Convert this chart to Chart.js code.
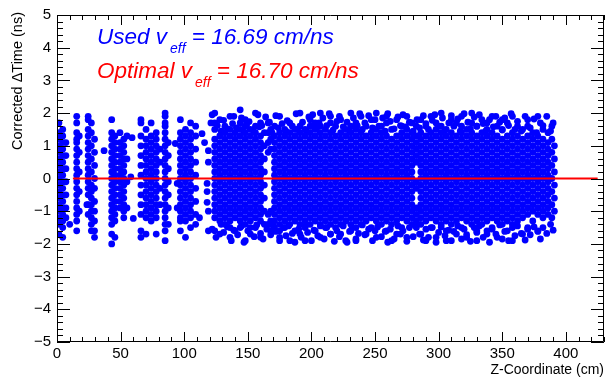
<!DOCTYPE html>
<html>
<head>
<meta charset="utf-8">
<script src="https://cdn.jsdelivr.net/npm/chart.js@4.4.1/dist/chart.umd.min.js"></script>
<style>
  html, body { margin: 0; padding: 0; background: #fff; }
  canvas { display: block; }
</style>
</head>
<body>
<canvas id="c" width="609" height="377"></canvas>
<script>
// z positions (cm) of the point columns, and the corrected time values in each column (tenths of ns)
const zCols = [
  1.5, 4.5, 7, 15.5, 17.5, 24.5, 27, 29.5, 43, 45.5, 49.5, 52.5, 55,
  66, 70, 74, 78, 81, 85, 87.5, 97, 101, 105, 109,
  124, 128, 132, 136, 140, 144, 148, 152, 156, 160, 163, 166, 168,
  171, 175, 179, 183, 187, 191, 195, 199, 203, 207, 211, 215,
  219, 223, 227, 231, 235, 239, 243, 247, 251, 255, 259, 263, 267, 271, 275, 279, 282.5,
  286, 290, 294, 298, 302, 306, 310, 314, 318, 322, 326, 330, 334, 338, 342, 346, 350,
  354, 358, 362, 366, 370, 374, 378, 382, 386, 389, 391
];
const dtTenths = [
  [17,14,12,10,8,6,4,2,0,-2,-4,-6,-8,-10,-12,-14,-17],
  [15,13,11,9,7,5,3,1,-1,-3,-5,-7,-9,-11,-13,-15,-18],
  [11,7,3,-1,-5,-9,-12],
  [19,17,14,12,11,9,7,5,3,1,-1,-3,-5,-7,-9,-11,-13,-16],
  [13,8,2,-4,-10],
  [19,18,15,13,11,9,7,5,3,1,-1,-3,-5,-8,-11],
  [17,14,10,6,2,-2,-4,-6,-8,-10,-12,-14,-16],
  [12,8,4,0,-3,-7,-10,-13,-16,-18],
  [18,14,12,10,8,6,4,2,0,-2,-4,-6,-8,-10,-12,-14,-17,-20],
  [13,11,9,7,5,3,1,-1,-3,-5,-7,-9,-11,-13,-18],
  [14,11,9,7,5,3,1,-1,-3,-5,-7,-9],
  [12,10,8,6,4,2,0,-2,-4,-6,-8,-10,-12],
  [13,6,-1,-9],
  [18,17,13,10,7,4,1,-2,-5,-8,-11,-16,-18],
  [15,12,10,8,6,4,2,0,-2,-4,-6,-8,-10,-12,-17],
  [17,13,11,9,7,5,3,1,-1,-3,-5,-7,-9,-11,-13],
  [14,12,10,8,6,4,2,0,-2,-4,-6,-8,-10,-12,-17],
  [9,5,-3,-8],
  [20,19,17,16,14,12,10,8,6,4,2,0,-2,-4,-6,-8,-10,-12,-14,-16,-19],
  [11,7,3,-1,-5,-9,-14],
  [18,14,12,10,8,6,4,2,0,-2,-4,-6,-8,-10,-12,-13,-16],
  [15,13,11,9,7,5,3,1,-1,-3,-5,-7,-9,-11,-13,-18],
  [17,14,12,10,8,6,4,2,0,-2,-4,-6,-8,-10,-12,-15],
  [16,13,9,5,1,-3,-7,-11,-14],
  [20,17,15,12,10,8,6,4,2,0,-2,-4,-6,-8,-10,-12,-16],
  [18,13,11,9,7,5,3,1,-1,-3,-5,-7,-9,-11,-13,-17],
  [16,14,12,10,8,6,4,2,0,-2,-4,-6,-8,-10,-12,-14],
  [19,15,13,11,9,7,5,3,1,-1,-3,-5,-7,-9,-11,-13,-15,-18],
  [14,12,10,8,6,4,2,0,-2,-4,-6,-8,-10,-12,-16],
  [21,17,15,13,11,9,7,5,3,1,-1,-3,-5,-7,-9,-11,-13,-15],
  [18,16,14,12,10,8,6,4,2,0,-2,-4,-6,-8,-10,-12,-14,-19],
  [15,13,11,9,7,5,3,1,-1,-3,-5,-7,-9,-11,-13,-17],
  [20,16,14,12,10,8,6,4,2,0,-2,-4,-6,-8,-10,-12,-15],
  [17,13,11,9,7,5,3,1,-1,-3,-5,-7,-9,-11,-13,-18],
  [14,10,6,2,-2,-6,-10,-14],
  [17,14,11,8,-11,-14],
  [15,12,9,-10,-13,-16],
  [16,13,11,9,7,5,3,1,-1,-3,-5,-7,-9,-11,-13,-15],
  [19,14,12,10,8,6,4,2,0,-2,-4,-6,-8,-10,-12,-14,-16,-18],
  [15,13,11,9,7,5,3,1,-1,-3,-5,-7,-9,-11,-13,-15],
  [17,14,12,10,8,6,4,2,0,-2,-4,-6,-8,-10,-12,-14,-19],
  [15,13,11,9,7,5,3,1,-1,-3,-5,-7,-9,-11,-13,-16],
  [20,16,14,12,10,8,6,4,2,0,-2,-4,-6,-8,-10,-12,-14,-17],
  [15,13,11,9,7,5,3,1,-1,-3,-5,-7,-9,-11,-13,-15,-19],
  [18,16,14,12,10,8,6,4,2,0,-2,-4,-6,-8,-10,-12,-14],
  [17,15,13,11,9,7,5,3,1,-1,-3,-5,-7,-9,-11,-13,-16],
  [20,16,14,12,10,8,6,4,2,0,-2,-4,-6,-8,-10,-12,-14,-18],
  [15,13,11,9,7,5,3,1,-1,-3,-5,-7,-9,-11,-13,-15],
  [19,17,14,12,10,8,6,4,2,0,-2,-4,-6,-8,-10,-12,-14,-17],
  [16,13,11,9,7,5,3,1,-1,-3,-5,-7,-9,-11,-13,-15],
  [18,14,12,10,8,6,4,2,0,-2,-4,-6,-8,-10,-12,-14,-17],
  [15,13,11,9,7,5,3,1,-1,-3,-5,-7,-9,-11,-13,-19],
  [20,16,14,12,10,8,6,4,2,0,-2,-4,-6,-8,-10,-12,-14,-16],
  [17,15,13,11,9,7,5,3,1,-1,-3,-5,-7,-9,-11,-13,-15,-19],
  [19,14,12,10,8,6,4,2,0,-2,-4,-6,-8,-10,-12,-14],
  [16,13,11,9,7,5,3,1,-1,-3,-5,-7,-9,-11,-13,-17],
  [18,14,12,10,8,6,4,2,0,-2,-4,-6,-8,-10,-12,-15],
  [20,15,13,11,9,7,5,3,1,-1,-3,-5,-7,-9,-11,-13,-18],
  [16,14,12,10,8,6,4,2,0,-2,-4,-6,-8,-10,-12,-14],
  [19,17,13,11,9,7,5,3,1,-1,-3,-5,-7,-9,-11,-13,-16],
  [15,12,10,8,6,4,2,0,-2,-4,-6,-8,-10,-12,-14,-19],
  [18,13,11,9,7,5,3,1,-1,-3,-5,-7,-9,-11,-13,-17],
  [16,14,12,10,8,6,4,2,0,-2,-4,-6,-8,-10,-12,-15],
  [19,15,13,11,9,7,5,3,1,-1,-3,-5,-7,-9,-11,-13,-18],
  [17,14,12,10,8,6,4,2,0,-2,-4,-6,-8,-10,-12,-14],
  [16,13,11,9,7,5,-1,-3,-9,-11,-13,-15],
  [18,14,12,10,8,6,4,2,0,-2,-4,-6,-8,-10,-12,-14,-17],
  [16,13,11,9,7,5,3,1,-1,-3,-5,-7,-9,-11,-13,-19],
  [19,14,12,10,8,6,4,2,0,-2,-4,-6,-8,-10,-12,-15],
  [17,15,13,11,9,7,5,3,1,-1,-3,-5,-7,-9,-11,-13,-18],
  [20,16,14,12,10,8,6,4,2,0,-2,-4,-6,-8,-10,-12,-14],
  [15,13,11,9,7,5,3,1,-1,-3,-5,-7,-9,-11,-13,-16,-19],
  [18,14,12,10,8,6,4,2,0,-2,-4,-6,-8,-10,-12,-14],
  [17,13,11,9,7,5,3,1,-1,-3,-5,-7,-9,-11,-13,-17],
  [19,16,14,12,10,8,6,4,2,0,-2,-4,-6,-8,-10,-12,-15],
  [15,13,11,9,7,5,3,1,-1,-3,-5,-7,-9,-11,-13,-18],
  [20,17,14,12,10,8,6,4,2,0,-2,-4,-6,-8,-10,-12,-14],
  [16,13,11,9,7,5,3,1,-1,-3,-5,-7,-9,-11,-13,-16,-19],
  [18,14,12,10,8,6,4,2,0,-2,-4,-6,-8,-10,-12,-14],
  [17,15,13,11,9,7,5,3,1,-1,-3,-5,-7,-9,-11,-13,-17],
  [19,14,12,10,8,6,4,2,0,-2,-4,-6,-8,-10,-12,-15],
  [16,13,11,9,7,5,3,1,-1,-3,-5,-7,-9,-11,-13,-18],
  [18,15,12,10,8,6,4,2,0,-2,-4,-6,-8,-10,-12,-14],
  [17,13,11,9,7,5,3,1,-1,-3,-5,-7,-9,-11,-13,-16],
  [19,14,12,10,8,6,4,2,0,-2,-4,-6,-8,-10,-12,-14,-19],
  [16,13,11,9,7,5,3,1,-1,-3,-5,-7,-9,-11,-13],
  [15,12,10,8,6,4,2,0,-2,-4,-6,-8,-10,-12,-17],
  [18,13,11,9,7,5,3,1,-1,-3,-5,-7,-9,-11,-15],
  [14,12,10,8,6,4,2,0,-2,-4,-6,-8,-10,-13],
  [19,13,11,9,7,5,3,1,-1,-3,-5,-7,-9,-11,-16],
  [15,12,10,8,6,4,2,0,-2,-4,-6,-8,-10,-12],
  [14,11,9,7,5,3,1,-1,-3,-5,-7,-9,-11],
  [16,12,8,4,0,-4,-8,-12],
  [10,6,2,-2,-6,-10]
];

// isolated points between the left-hand columns
const strayZ  = [10, 23.5, 37, 58, 59, 60, 93, 94.5, 94.5, 112, 114, 116, 118, 118, 118, 119, 119, 119, 119, 121];
const strayDt = [-1.4, -0.8, 0.85, 0.05, 1.25, -1.22, 1.07, -0.15, -0.9, -1.2, 1.37, 1.1, -0.15, -0.4, -0.73, 0.85, 0.5, -1.0, -1.6, 1.7];

// scattered points above and below the dense band
const fringeZ = [
  122,126,129,131,134,138,139,141,145,147,149,151,154,158,159,161,164,167,169,172,174,177,180,
  181,185,188,189,193,196,198,200,201,204,206,209,212,214,217,220,222,225,228,230,233,236,238,240,
  242,245,248,250,253,256,258,260,262,265,268,270,272,274,277,280,283,285,288,290,292,295,297,300,
  303,305,308,310,312,315,317,320,323,325,328,330,332,335,337,340,343,345,348,350,352,355,357,360,
  362,365,368,370,372,375,377,380,382,385,388,390,
  122,125,129,131,134,137,139,142,145,147,150,152,155,157,160,162,165,168,170,172,175,178,180,
  182,185,187,190,192,195,197,200,202,205,207,210,212,215,218,220,222,225,228,230,232,235,237,240,
  242,245,248,250,252,255,258,260,262,265,268,270,272,275,277,280,282,285,288,290,292,295,298,300,
  302,305,308,310,312,315,318,320,322,325,328,330,332,335,338,340,342,345,348,350,352,355,358,360,
  362,365,368,370,372,375,378,380,382,385,388,390
];
const fringeDt = [
  1.95,1.62,1.45,1.78,1.52,1.68,1.9,1.55,1.85,1.42,1.63,1.74,1.48,1.95,1.58,1.62,1.88,1.72,1.4,1.92,1.55,1.68,1.45,
  1.77,1.6,1.98,1.5,1.72,1.45,1.88,1.6,1.95,1.52,1.7,1.85,1.62,1.98,1.48,1.75,1.9,1.58,1.72,1.45,1.85,1.62,1.98,1.5,
  1.7,1.92,1.55,1.8,1.6,1.85,1.45,1.98,1.75,1.52,1.88,1.62,1.95,1.58,1.72,1.45,1.8,1.55,1.92,1.68,1.5,1.78,1.95,1.6,
  1.85,1.48,1.7,1.92,1.6,1.82,1.45,1.98,1.72,1.52,1.88,1.6,1.95,1.68,1.45,1.8,1.58,1.9,1.72,1.48,1.85,1.62,1.98,1.5,
  1.75,1.45,1.9,1.6,1.55,1.82,1.4,1.7,1.62,1.9,1.45,1.7,
  -1.55,-1.8,-1.4,-1.65,-1.48,-1.9,-1.58,-1.72,-1.45,-1.95,-1.6,-1.5,-1.78,-1.42,-1.68,-1.85,-1.55,-1.72,-1.45,-1.62,-1.9,-1.5,-1.75,
  -1.45,-1.68,-1.95,-1.55,-1.8,-1.48,-1.65,-1.9,-1.58,-1.75,-1.45,-1.85,-1.5,-1.7,-1.92,-1.6,-1.78,-1.45,-1.95,-1.62,-1.5,-1.85,-1.68,-1.42,
  -1.72,-1.55,-1.9,-1.6,-1.48,-1.78,-1.62,-1.95,-1.55,-1.85,-1.45,-1.7,-1.6,-1.92,-1.5,-1.78,-1.45,-1.7,-1.88,-1.55,-1.8,-1.5,-1.95,-1.65,
  -1.48,-1.75,-1.58,-1.9,-1.62,-1.45,-1.85,-1.55,-1.72,-1.92,-1.5,-1.65,-1.45,-1.8,-1.6,-1.95,-1.55,-1.7,-1.42,-1.85,-1.62,-1.9,-1.5,-1.75,
  -1.45,-1.68,-1.88,-1.55,-1.72,-1.48,-1.62,-1.85,-1.5,-1.68,-1.4,-1.58
];

// fitted line (y = 0)
const fitZ  = [12.5, 425];
const fitDt = [0, 0];

const usedText = ['Used v', 'eff', ' = 16.69 cm/ns'];
const optText  = ['Optimal v', 'eff', ' = 16.70 cm/ns'];

const FONT = "'Liberation Sans', Arial, Helvetica, sans-serif";

const points = [];
zCols.forEach((z, i) => {
  dtTenths[i].forEach(d => points.push({ x: z, y: d / 10 }));
});
strayZ.forEach((z, i) => points.push({ x: z, y: strayDt[i] }));
fringeZ.forEach((z, i) => points.push({ x: z, y: fringeDt[i] }));

const fitLine = fitZ.map((z, i) => ({ x: z, y: fitDt[i] }));

const minus = v => String(v).replace('-', '\u2212');

const rootFrame = {
  id: 'rootFrame',
  afterDraw(chart) {
    const { ctx, chartArea: a, scales } = chart;
    const xs = scales.x, ys = scales.y;
    ctx.save();
    ctx.strokeStyle = '#000';
    ctx.lineWidth = 1;
    ctx.beginPath();
    ctx.rect(a.left + 0.5, a.top + 0.5, a.right - a.left - 1, a.bottom - a.top - 1);
    ctx.stroke();

    // x ticks, inside, on bottom and top
    ctx.beginPath();
    for (let v = 0; v <= 430; v += 10) {
      const px = Math.round(xs.getPixelForValue(v)) + 0.5;
      const len = v % 50 === 0 ? 10 : 5;
      ctx.moveTo(px, a.bottom); ctx.lineTo(px, a.bottom - len);
      ctx.moveTo(px, a.top); ctx.lineTo(px, a.top + len);
    }
    // y ticks, inside, on left and right
    for (let k = -25; k <= 25; k++) {
      const v = k / 5;
      const py = Math.round(ys.getPixelForValue(v)) + 0.5;
      const len = k % 5 === 0 ? 13 : 6;
      ctx.moveTo(a.left, py); ctx.lineTo(a.left + len, py);
      ctx.moveTo(a.right, py); ctx.lineTo(a.right - len, py);
    }
    ctx.stroke();

    // axis titles
    ctx.fillStyle = '#000';
    ctx.font = '14px ' + FONT;
    ctx.textAlign = 'right';
    ctx.textBaseline = 'alphabetic';
    ctx.fillText('Z-Coordinate (cm)', a.right, 374);
    ctx.save();
    ctx.translate(22, 12);
    ctx.rotate(-Math.PI / 2);
    ctx.font = '14.5px ' + FONT;
    ctx.textAlign = 'right';
    ctx.fillText('Corrected \u0394Time (ns)', 0, 0);
    ctx.restore();

    // v_eff labels
    const drawLabel = (parts, x, y, color) => {
      ctx.fillStyle = color;
      ctx.textAlign = 'left';
      ctx.font = 'italic 22.5px ' + FONT;
      ctx.fillText(parts[0], x, y);
      x += ctx.measureText(parts[0]).width + 3;
      ctx.font = 'italic 14px ' + FONT;
      ctx.fillText(parts[1], x, y + 9);
      x += ctx.measureText(parts[1]).width;
      ctx.font = 'italic 22.5px ' + FONT;
      ctx.fillText(parts[2], x, y);
    };
    drawLabel(usedText, 97, 44, '#0000ff');
    drawLabel(optText, 97, 78, '#ff0000');
    ctx.restore();
  }
};

new Chart(document.getElementById('c'), {
  type: 'scatter',
  data: {
    datasets: [
      {
        data: fitLine,
        showLine: true,
        borderColor: '#ff0000',
        borderWidth: 2,
        pointRadius: 0,
        fill: false
      },
      {
        data: points,
        backgroundColor: '#0000ff',
        borderWidth: 0,
        pointRadius: 3.4,
        pointHoverRadius: 3.4
      }
    ]
  },
  options: {
    responsive: false,
    animation: false,
    devicePixelRatio: 1,
    layout: { padding: { top: 14, right: 5, left: 0, bottom: 0 } },
    plugins: { legend: { display: false }, tooltip: { enabled: false } },
    scales: {
      x: {
        type: 'linear',
        min: 0,
        max: 430,
        grid: { display: false, drawTicks: false },
        border: { display: false },
        ticks: {
          stepSize: 50,
          includeBounds: false,
          autoSkip: false,
          maxRotation: 0,
          padding: 3,
          color: '#000',
          font: { family: FONT, size: 15 }
        },
        afterFit(scale) { scale.height = 35; }
      },
      y: {
        min: -5,
        max: 5,
        grid: { display: false, drawTicks: false },
        border: { display: false },
        ticks: {
          stepSize: 1,
          padding: 6,
          color: '#000',
          font: { family: FONT, size: 15 },
          callback: v => minus(v)
        },
        afterFit(scale) { scale.width = 57; }
      }
    }
  },
  plugins: [rootFrame]
});
</script>
</body>
</html>
